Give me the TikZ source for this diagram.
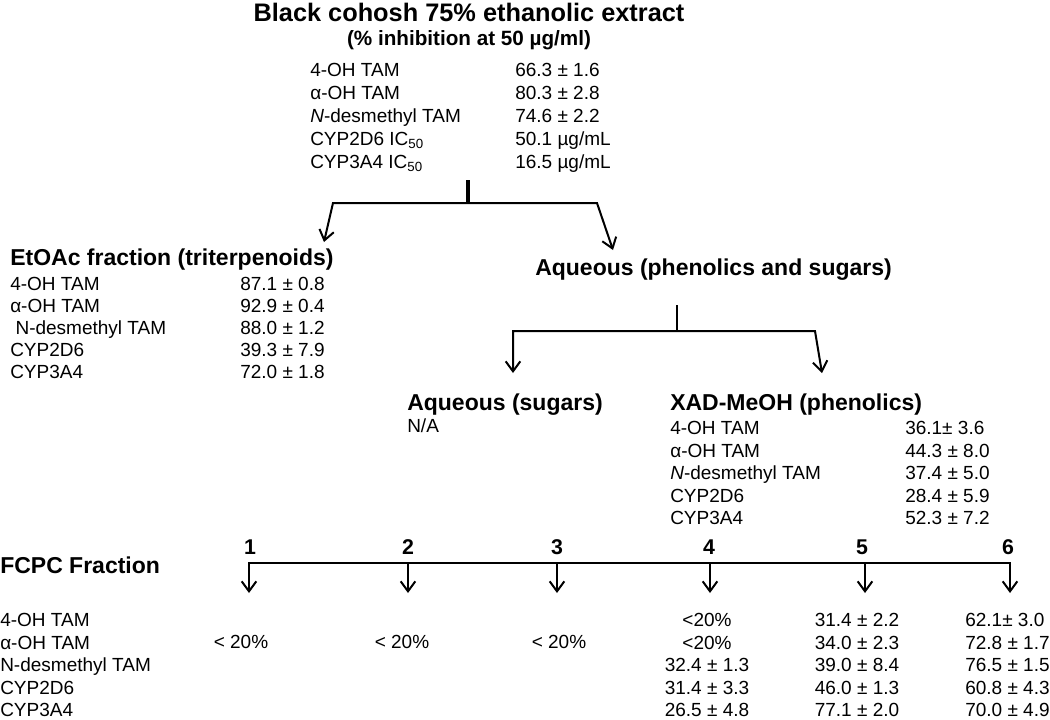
\documentclass[tikz,border=0pt]{standalone}
\usepackage{fontspec}
\setmainfont{Liberation Sans}
\usetikzlibrary{arrows.meta}

\begin{document}
\begin{tikzpicture}[x=0.75pt,y=-0.75pt,>={Straight Barb[length=7.5pt,width=11pt]},
 tt/.style={inner sep=0pt,font=\fontsize{19}{22}\selectfont\bfseries},
 hd/.style={anchor=west,inner sep=0pt,yshift=-2.5pt,text height=0.75em,text depth=0.22em,font=\fontsize{17.25}{20}\selectfont\bfseries},
 num/.style={inner sep=0pt,font=\fontsize{16}{18}\selectfont\bfseries},
 tx/.style={anchor=west,inner sep=0pt,yshift=-2.5pt,text height=0.75em,text depth=0.22em,font=\fontsize{14.25}{17}\selectfont},
 vc/.style={tx,anchor=center},
 ln/.style={line width=1.5pt,line join=miter},
 ar/.style={ln,->}]
 \useasboundingbox (0,0) rectangle (1050,719);
 % extract
 \node[tt] (title) at (469,12) {Black cohosh 75\% ethanolic extract};
 \node[tt,font=\fontsize{15.5}{18}\selectfont\bfseries] (sub) at (469,40) {(\% inhibition at 50 µg/ml)};
 \foreach \lab/\val [count=\i from 0] in {4-OH TAM/66.3 ± 1.6,α-OH TAM/80.3 ± 2.8,{\textit{N}-desmethyl TAM}/74.6 ± 2.2,{CYP2D6 IC\textsubscript{50}}/{50.1 µg/mL},{CYP3A4 IC\textsubscript{50}}/{16.5 µg/mL}}{
  \node[tx] (ex\i) at (310,70+23*\i) {\lab};
  \node[tx] (exv\i) at (515,70+23*\i) {\val};
 }
 % first split
 \coordinate (s1) at (468,180);
 \coordinate (j1) at (468,203);
 \coordinate (l1) at (333,203);
 \coordinate (r1) at (597,203);
 \coordinate (l1e) at (324,242);
 \coordinate (r1e) at (613,250);
 \draw[line width=2.4pt] (s1)--(j1);
 \draw[ar,<->] (l1e)--(l1)--(r1)--(r1e);
 % EtOAc
 \node[hd] (etoac) at (10,259) {EtOAc fraction (triterpenoids)};
 \foreach \lab/\val [count=\i from 0] in {4-OH TAM/87.1 ± 0.8,α-OH TAM/92.9 ± 0.4,{\ N-desmethyl TAM}/88.0 ± 1.2,CYP2D6/39.3 ± 7.9,CYP3A4/72.0 ± 1.8}{
  \node[tx] (et\i) at (10,284+22*\i) {\lab};
  \node[tx] (etv\i) at (240,284+22*\i) {\val};
 }
 % aqueous
 \node[hd] (aqps) at (535,269) {Aqueous (phenolics and sugars)};
 \coordinate (s2) at (677,305);
 \coordinate (j2) at (677,331);
 \coordinate (l2) at (513,331);
 \coordinate (r2) at (815,331);
 \coordinate (l2e) at (513,373);
 \coordinate (r2e) at (822,373);
 \draw[ln] (s2)--(j2);
 \draw[ar,<->] (l2e)--(l2)--(r2)--(r2e);
 \node[hd] (aqs) at (407,404) {Aqueous (sugars)};
 \node[tx] (na) at (407,426) {N/A};
 \node[hd] (xad) at (670,404) {XAD-MeOH (phenolics)};
 \foreach \lab/\val [count=\i from 0] in {4-OH TAM/36.1± 3.6,α-OH TAM/44.3 ± 8.0,{\textit{N}-desmethyl TAM}/37.4 ± 5.0,CYP2D6/28.4 ± 5.9,CYP3A4/52.3 ± 7.2}{
  \node[tx] (xa\i) at (670,428+22.5*\i) {\lab};
  \node[tx] (xav\i) at (905,428+22.5*\i) {\val};
 }
 % FCPC
 \node[hd] (fcpc) at (0,567) {FCPC Fraction};
 \foreach \x [count=\i] in {249,408,557,710,865,1010}{
  \coordinate (f\i) at (\x,563);
  \coordinate (t\i) at (\x,593);
 }
 \foreach \x [count=\i] in {250,408,557,709,862,1008}
  \node[num] (n\i) at (\x,547) {\i};
 \draw[ar,<->] (t1)--(f1)--(f6)--(t6);
 \foreach \i in {2,...,5} \draw[ar] (f\i)--(t\i);
 \foreach \lab [count=\i from 0] in {4-OH TAM,α-OH TAM,N-desmethyl TAM,CYP2D6,CYP3A4}
  \node[tx] (fc\i) at (0,620+22.5*\i) {\lab};
 \foreach \x [count=\i] in {241,402,559}
  \node[vc] (lo\i) at (\x,642) {< 20\%};
 \foreach \val [count=\i from 0] in {<20\%,<20\%,32.4 ± 1.3,31.4 ± 3.3,26.5 ± 4.8}
  \node[vc] (c4\i) at (707,620+22.5*\i) {\val};
 \foreach \val [count=\i from 0] in {31.4 ± 2.2,34.0 ± 2.3,39.0 ± 8.4,46.0 ± 1.3,77.1 ± 2.0}
  \node[vc] (c5\i) at (857,620+22.5*\i) {\val};
 \foreach \val [count=\i from 0] in {62.1± 3.0,72.8 ± 1.7,76.5 ± 1.5,60.8 ± 4.3,70.0 ± 4.9}
  \node[tx] (c6\i) at (965,620+22.5*\i) {\val};
\end{tikzpicture}
\end{document}
